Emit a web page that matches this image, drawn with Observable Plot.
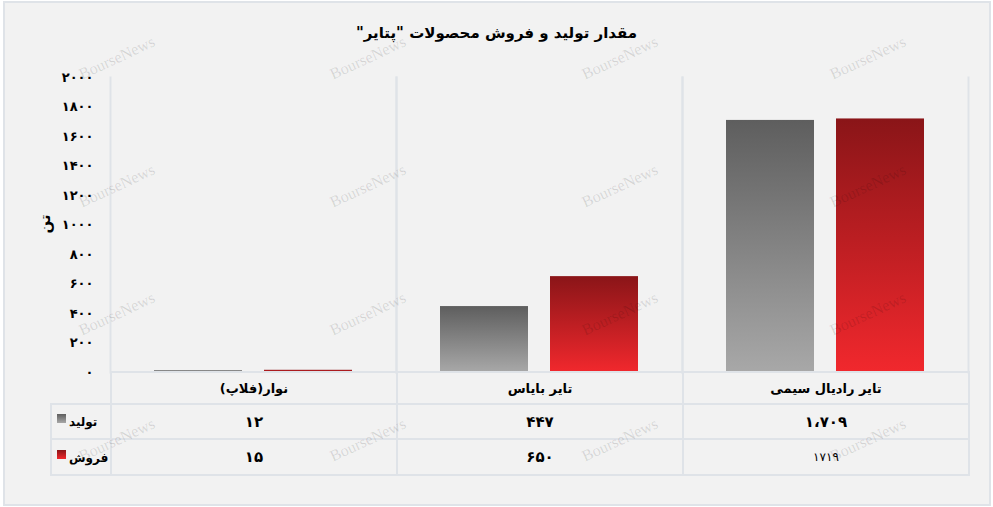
<!DOCTYPE html>
<html>
<head>
<meta charset="utf-8">
<script src="https://cdn.jsdelivr.net/npm/d3@7"></script>
<script src="https://cdn.jsdelivr.net/npm/@observablehq/plot@0.6"></script>
<style>
  body { margin: 0; background: #ffffff; }
  #wrap { position: relative; width: 993px; height: 507px; overflow: hidden; font-family: "DejaVu Sans", sans-serif; }
  #frame { position: absolute; left: 3px; top: 1px; width: 984px; height: 501px; border: 2px solid #dfe3e8; background: #f2f2f2; }
  #title { position: absolute; top: 24px; left: 0; width: 993px; text-align: center; font-weight: bold; font-size: 15px; color: #000; direction: rtl; }
  #ylabel { position: absolute; left: 45px; top: 224px; transform: translate(-50%, -50%) rotate(-90deg); font-weight: bold; font-size: 15px; color: #000; direction: rtl; white-space: nowrap; }
  #plot { position: absolute; left: 0; top: 0; }
  #tbl { position: absolute; left: 50px; top: 371px; width: 918px; border-collapse: collapse; table-layout: fixed; }
  #tbl td { border: 2px solid #dfe3e8; padding: 0; text-align: center; vertical-align: middle; direction: rtl; color: #000; }
  #tbl td.blank { border-top: none; border-left: none; }
  #tbl td.cat { font-weight: bold; font-size: 13px; }
  #tbl td.val { font-weight: bold; font-size: 15px; }
  #tbl td.plain { font-weight: normal; font-size: 12px; }
  #tbl td.leg { text-align: left; direction: ltr; padding-left: 5px; font-weight: bold; font-size: 12px; white-space: nowrap; overflow: visible; }
  .sq { display: inline-block; width: 9px; height: 9px; margin-right: 3px; vertical-align: 3px; }
  #wm { position: absolute; left: 0; top: 0; width: 993px; height: 507px; pointer-events: none; }
  .w { position: absolute; font-family: "Liberation Serif", serif; font-size: 16px; color: rgba(0,0,0,0.12); transform: translate(-50%, -50%) rotate(-25deg); white-space: nowrap; }
</style>
</head>
<body>
<svg width="0" height="0" style="position:absolute">
  <defs>
    <linearGradient id="gGray" x1="0" y1="0" x2="0" y2="1">
      <stop offset="0" stop-color="#5e5e5e"/>
      <stop offset="1" stop-color="#a8a8a8"/>
    </linearGradient>
    <linearGradient id="gRed" x1="0" y1="0" x2="0" y2="1">
      <stop offset="0" stop-color="#8a1518"/>
      <stop offset="1" stop-color="#f1282d"/>
    </linearGradient>
  </defs>
</svg>
<div id="wrap">
  <div id="frame"></div>
  <div id="title"></div>
  <div id="ylabel"></div>
  <div id="plot"></div>
  <table id="tbl"></table>
  <div id="wm"></div>
</div>
<script>
// ---- data ----
const title = 'مقدار تولید و فروش محصولات "پتایر"';
const categories = ["نوار(فلاپ)", "تایر بایاس", "تایر رادیال سیمی"];
const seriesNames = ["تولید", "فروش"];
const production = [12, 447, 1709];
const sales = [15, 650, 1719];
const productionLabels = ["۱۲", "۴۴۷", "۱،۷۰۹"];
const salesLabels = ["۱۵", "۶۵۰", "۱۷۱۹"];
const yTicks = [0, 200, 400, 600, 800, 1000, 1200, 1400, 1600, 1800, 2000];
const yLabel = "تن";
const watermark = "BourseNews";

const fa = n => String(n).replace(/\d/g, d => "۰۱۲۳۴۵۶۷۸۹"[+d]);
const fills = {"تولید": "url(#gGray)", "فروش": "url(#gRed)"};

const rows = categories.flatMap((c, i) => [
  {category: c, series: seriesNames[0], value: production[i]},
  {category: c, series: seriesNames[1], value: sales[i]}
]);

document.getElementById("title").textContent = title;
document.getElementById("ylabel").textContent = yLabel;

const chart = Plot.plot({
  width: 993,
  height: 380,
  marginTop: 77,
  marginBottom: 8,
  marginLeft: 110,
  marginRight: 25,
  style: {background: "transparent", fontFamily: "DejaVu Sans", color: "#000", overflow: "visible"},
  fx: {domain: categories, padding: 0, axis: null},
  x: {domain: seriesNames, paddingInner: 0.2, paddingOuter: 0.4, axis: null},
  y: {domain: [0, 2000]},
  marks: [
    Plot.frame({anchor: "left", stroke: "#dfe3e8", strokeWidth: 2}),
    Plot.frame({anchor: "right", stroke: "#dfe3e8", strokeWidth: 2}),
    ...seriesNames.map(s => Plot.barY(rows.filter(d => d.series === s), {
      fx: "category", x: "series", y: "value", fill: fills[s], inset: 0
    })),
    Plot.axisY({
      ticks: yTicks, tickFormat: fa, tickSize: 0, tickPadding: 17,
      fontWeight: "bold", fontSize: 13, label: null
    })
  ]
});
document.getElementById("plot").appendChild(chart);

// ---- table ----
const tbl = document.getElementById("tbl");
const colW = [60, 286, 286, 286];
const cg = document.createElement("colgroup");
colW.forEach(w => { const c = document.createElement("col"); c.style.width = w + "px"; cg.appendChild(c); });
tbl.appendChild(cg);

function addRow(h, cells) {
  const tr = document.createElement("tr");
  tr.style.height = h + "px";
  cells.forEach(([cls, html]) => {
    const td = document.createElement("td");
    td.className = cls;
    td.innerHTML = html;
    tr.appendChild(td);
  });
  tbl.appendChild(tr);
}
addRow(32, [["blank", ""], ...categories.map(c => ["cat", c])]);
addRow(35, [["leg", '<span class="sq" style="background:linear-gradient(#5e5e5e,#a8a8a8)"></span>' + seriesNames[0]],
            ...productionLabels.map(v => ["val", v])]);
addRow(36, [["leg", '<span class="sq" style="background:linear-gradient(#8a1518,#f1282d)"></span>' + seriesNames[1]],
            ...salesLabels.map((v, i) => [i === 2 ? "plain" : "val", v])]);

// ---- watermark decoration ----
const wm = document.getElementById("wm");
[117, 368, 620, 868].forEach(x => [58, 186, 314, 440].forEach(y => {
  const s = document.createElement("span");
  s.className = "w";
  s.textContent = watermark;
  s.style.left = x + "px";
  s.style.top = y + "px";
  wm.appendChild(s);
}));
</script>
</body>
</html>
